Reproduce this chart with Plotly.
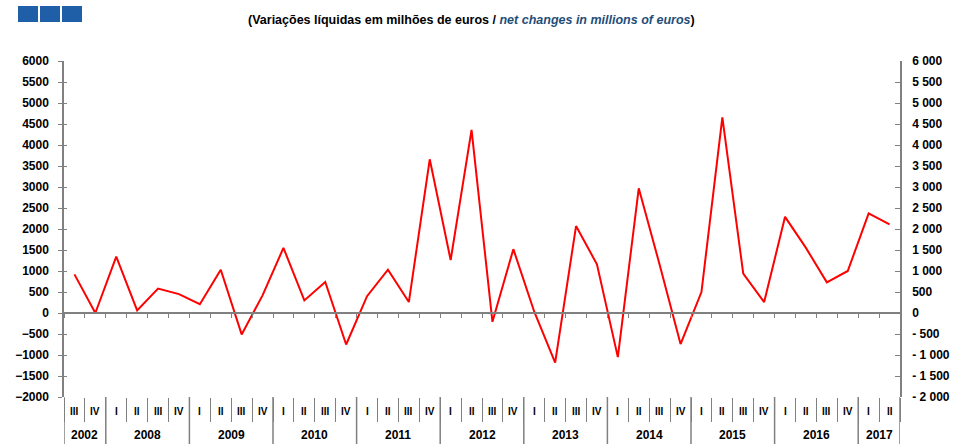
import plotly.graph_objects as go

years = ["2002", "2008", "2009", "2010", "2011", "2012", "2013", "2014", "2015", "2016", "2017"]
quarters_per_year = [2, 4, 4, 4, 4, 4, 4, 4, 4, 4, 2]
quarters = ["III", "IV"] + ["I", "II", "III", "IV"] * 9 + ["I", "II"]
values = [920, 0, 1340, 60, 580, 450, 210, 1030,
          -510, 420, 1550, 300, 740, -750, 400, 1030,
          260, 3660, 1260, 4360, -210, 1520, 30, -1180,
          2070, 1160, -1050, 2970, 1150, -740, 500, 4660,
          940, 260, 2290, 1550, 730, 1000, 2370, 2110]

ytick_vals = list(range(-2000, 6001, 500))
ytick_right = ["- 2 000", "- 1 500", "- 1 000", "- 500", "0", "500", "1 000", "1 500", "2 000",
               "2 500", "3 000", "3 500", "4 000", "4 500", "5 000", "5 500", "6 000"]

FONT = "Liberation Sans Narrow, Arial Narrow, Liberation Sans, Arial, sans-serif"
AX = "#808080"
PLOT_H = 336

idx = list(range(len(values)))
bounds = [i - 0.5 for i in range(len(values) + 1)]

fig = go.Figure()
fig.add_trace(go.Scatter(x=idx, y=values, mode="lines",
                         line=dict(color="#FF0000", width=2), showlegend=False,
                         text=[f"{q}" for q in quarters]))
fig.add_trace(go.Scatter(x=idx, y=values, xaxis="x2", yaxis="y2", mode="lines",
                         line=dict(width=0), opacity=0, hoverinfo="skip", showlegend=False))
fig.add_trace(go.Scatter(x=idx, y=values, xaxis="x2", yaxis="y3", mode="lines",
                         line=dict(width=0), opacity=0, hoverinfo="skip", showlegend=False))

xr = [-0.5, len(values) - 0.5]
fig.update_layout(
    width=964, height=446,
    margin=dict(l=64, r=64, t=61, b=49),
    paper_bgcolor="white", plot_bgcolor="white",
    font=dict(family=FONT, size=12, color="black"),
    xaxis=dict(range=xr, tickvals=bounds, showticklabels=False, showgrid=False,
               showline=False, zeroline=False, ticks="outside", ticklen=24,
               tickcolor=AX, tickwidth=1),
    xaxis2=dict(overlaying="x", anchor="free", position=0.25, range=xr,
                tickvals=bounds, ticks="outside", ticklen=4,
                tickcolor=AX, showticklabels=False, showgrid=False, zeroline=False,
                showline=True, linecolor=AX, linewidth=1.5),
    yaxis=dict(range=[-2000, 6000], tickvals=ytick_vals, showgrid=False, zeroline=False,
               showline=True, linecolor=AX, linewidth=1.5, ticks="outside", ticklen=4,
               ticklabelstandoff=7,
               tickcolor=AX, tickfont=dict(family=FONT, size=12, color="black", weight="bold")),
    yaxis2=dict(range=[-2000, 6000], overlaying="y", side="right", anchor="x2",
                tickvals=ytick_vals, ticktext=ytick_right, showgrid=False, zeroline=False,
                showline=True, linecolor=AX, linewidth=1.5, ticks="inside", ticklen=5,
                ticklabelstandoff=8,
                tickcolor=AX, tickfont=dict(family=FONT, size=12, color="black", weight="bold")),
    yaxis3=dict(range=[-2000, 6000], overlaying="y", side="left", anchor="x2",
                tickvals=ytick_vals, showticklabels=False, showgrid=False, zeroline=False,
                showline=False, ticks="inside", ticklen=3, tickcolor=AX),
)

# quarter labels
for i, q in enumerate(quarters):
    fig.add_annotation(x=i, y=-14 / PLOT_H, xref="x", yref="paper", text=f"<b>{q}</b>",
                       showarrow=False, xanchor="center", yanchor="middle",
                       font=dict(family=FONT, size=10, color="black"))

# year labels and year dividers
start = 0
for y, n in zip(years, quarters_per_year):
    fig.add_annotation(x=start + (n - 1) / 2, y=-38 / PLOT_H, xref="x", yref="paper",
                       text=f"<b>{y}</b>", showarrow=False, xanchor="center", yanchor="middle",
                       font=dict(family=FONT, size=12, color="black"))
    fig.add_shape(type="line", xref="x", yref="paper", x0=start - 0.5, x1=start - 0.5,
                  y0=0, y1=-47 / PLOT_H, line=dict(color=AX, width=1.5))
    start += n
fig.add_shape(type="line", xref="x", yref="paper", x0=start - 0.5, x1=start - 0.5,
              y0=0, y1=-47 / PLOT_H, line=dict(color=AX, width=1.5))

fig.add_annotation(
    xref="paper", yref="paper", x=0.487, y=1 + 41 / PLOT_H, xanchor="center", yanchor="middle",
    showarrow=False, font=dict(family=FONT, size=12.5, color="black"),
    text="<b>(Variações líquidas em milhões de euros / "
         "<i><span style='color:#1F4E79'>net changes in millions of euros</span></i>)</b>")

for k in range(3):
    fig.add_shape(type="rect", xref="paper", yref="paper",
                  x0=(18 + k * 22 - 64) / 836, x1=(38 + k * 22 - 64) / 836,
                  y0=1 + (61 - 22) / PLOT_H, y1=1 + (61 - 6) / PLOT_H,
                  fillcolor="#1F5FA8", line=dict(width=0))

fig.write_html("out.html", config={"displayModeBar": False},
               post_script="document.body.style.margin='0';document.body.style.overflow='hidden';")
